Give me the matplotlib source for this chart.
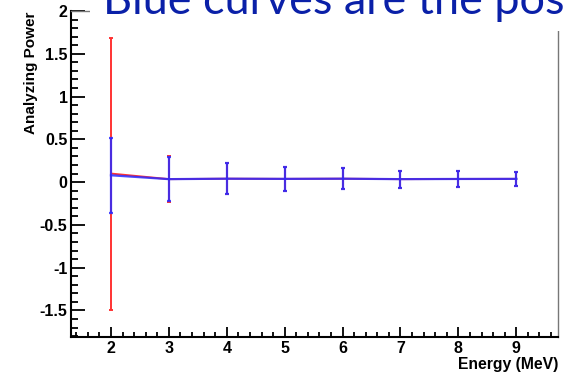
"""Analyzing power vs energy, two fits overlaid (red / blue)."""
import matplotlib

matplotlib.use("Agg")
import matplotlib.pyplot as plt
from matplotlib.patches import Rectangle
from matplotlib.ticker import MultipleLocator

plt.rcParams["font.family"] = ["Liberation Sans", "DejaVu Sans"]
plt.rcParams["axes.unicode_minus"] = False

energy = [2, 3, 4, 5, 6, 7, 8, 9]

red_y = [0.10, 0.035, 0.04, 0.038, 0.04, 0.035, 0.037, 0.038]
red_err = [1.59, 0.265, 0.18, 0.143, 0.12, 0.10, 0.093, 0.082]

blue_y = [0.08, 0.035, 0.04, 0.038, 0.04, 0.035, 0.037, 0.038]
blue_err = [0.44, 0.255, 0.178, 0.142, 0.12, 0.10, 0.093, 0.082]

title_text = "Blue curves are the pos"

W, H = 566, 376
fig = plt.figure(figsize=(W / 100, H / 100), dpi=100)
ax = fig.add_axes([71 / W, (H - 337) / H, (558 - 71) / W, (337 - 11) / H])

ax.errorbar(energy, red_y, yerr=red_err, color="#ff3333", lw=1.4,
            elinewidth=1.4, capsize=1.5, capthick=1.4, zorder=2)
ax.errorbar(energy, blue_y, yerr=blue_err, color="#2a2aff", lw=1.6, alpha=0.85,
            elinewidth=1.6, capsize=1.5, capthick=1.6, zorder=3)

ax.set_xlim(1.31, 9.72)
ax.set_ylim(-1.81, 2.0)
ax.xaxis.set_major_locator(MultipleLocator(1))
ax.xaxis.set_minor_locator(MultipleLocator(0.2))
ax.yaxis.set_major_locator(MultipleLocator(0.5))
ax.yaxis.set_minor_locator(MultipleLocator(0.1))
ax.yaxis.set_major_formatter(lambda v, p: f"{v:g}")

ax.tick_params(axis="both", which="both", direction="in", colors="black",
               labelsize=11.5, width=1.3)
ax.tick_params(axis="y", which="major", length=10, pad=2.5)
ax.tick_params(axis="y", which="minor", length=5)
ax.tick_params(axis="x", which="major", length=7.5, pad=3)
ax.tick_params(axis="x", which="minor", length=3.8)
for lab in ax.get_xticklabels() + ax.get_yticklabels():
    lab.set_fontweight("bold")

for side in ("left", "bottom"):
    ax.spines[side].set_linewidth(1.5)
for side in ("right", "top"):
    ax.spines[side].set_linewidth(1.0)
    ax.spines[side].set_color("#777777")

fig.text(31 / W, (H - 12) / H, "Analyzing Power", rotation=90, ha="center",
         va="top", fontsize=11, fontweight="bold")
fig.text(558 / W, (H - 365) / H, "Energy (MeV)", ha="right", va="center",
         fontsize=11.3, fontweight="bold")

# white box behind the overlaid slide title
fig.patches.append(Rectangle((90 / W, (H - 31) / H), 1, 31 / H,
                             transform=fig.transFigure, facecolor="white",
                             edgecolor="none", zorder=5))
fig.text(103 / W, (H - 14) / H, title_text, ha="left", va="baseline",
         fontsize=32.4, color="#0a20a8", family=["Lato", "DejaVu Sans"], zorder=6)

fig.savefig("out.png", dpi=100)
